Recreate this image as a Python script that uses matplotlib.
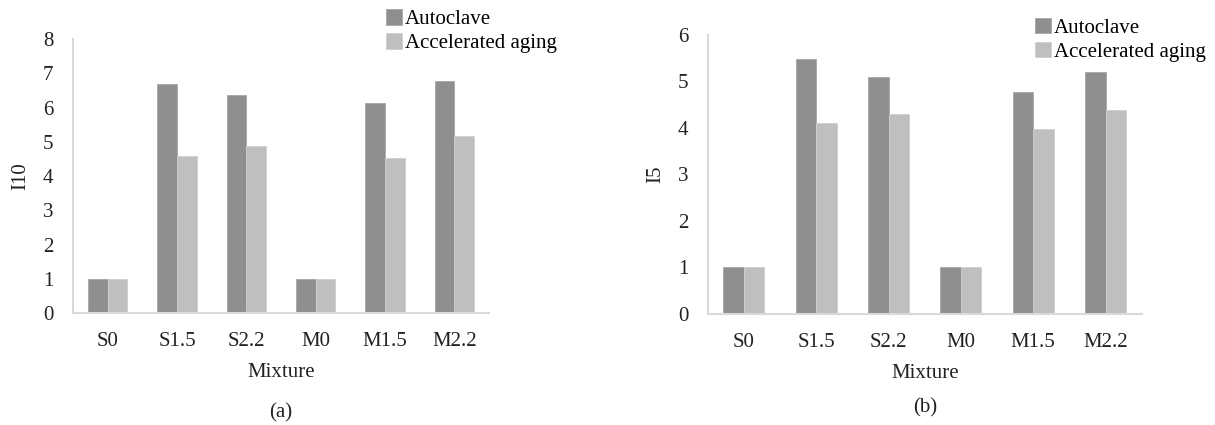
import matplotlib.pyplot as plt
import numpy as np

plt.rcParams['font.family'] = ['Liberation Serif', 'DejaVu Serif']
plt.rcParams['font.size'] = 15

mixtures = ["S0", "S1.5", "S2.2", "M0", "M1.5", "M2.2"]
i10_autoclave = [1, 6.68, 6.37, 1, 6.13, 6.77]
i10_aging = [1, 4.59, 4.87, 1, 4.53, 5.18]
i5_autoclave = [1, 5.48, 5.10, 1, 4.78, 5.20]
i5_aging = [1, 4.10, 4.30, 1, 3.98, 4.38]

dark = "#8f8f8f"
light = "#bfbfbf"
spine = "#d9d9d9"


def bar_panel(ax, auto, aged, ylabel, ymax, tag, tag_y, legend_xy, label_x):
    x = np.arange(len(mixtures)) + 0.5
    w = 0.283
    ax.bar(x - w / 2, auto, w, color=dark, edgecolor="#a6a6a6", linewidth=0.6, label="Autoclave")
    ax.bar(x + w / 2, aged, w, color=light, edgecolor="#d0d0d0", linewidth=0.6, label="Accelerated aging")
    ax.set_xlim(0, len(mixtures))
    ax.set_ylim(0, ymax)
    ax.set_yticks(range(ymax + 1))
    ax.set_xticks(x)
    ax.set_xticklabels(mixtures)
    ax.tick_params(axis="both", length=0, colors="#222222")
    ax.tick_params(axis="y", pad=14)
    ax.tick_params(axis="x", pad=14)
    for s in ["top", "right"]:
        ax.spines[s].set_visible(False)
    for s in ["left", "bottom"]:
        ax.spines[s].set_color(spine)
        ax.spines[s].set_linewidth(1.5)
    ax.set_xlabel("Mixture", labelpad=8, color="#222222")
    ax.set_ylabel(ylabel, color="#222222")
    ax.yaxis.set_label_coords(label_x, 0.5)
    ax.legend(loc="upper left", bbox_to_anchor=legend_xy, bbox_transform=fig.transFigure,
              frameon=False, handlelength=0.75, handleheight=0.75, handletextpad=0.15,
              labelspacing=0.2, borderaxespad=0, borderpad=0)
    ax.text(0.5, tag_y, tag, transform=ax.transAxes, ha="center", va="center", color="#222222")


fig = plt.figure(figsize=(12.15, 4.25), dpi=100)
ax1 = fig.add_axes([0.0601, 0.2635, 0.3424, 0.6447])
ax2 = fig.add_axes([0.5825, 0.2612, 0.3572, 0.6565])

bar_panel(ax1, i10_autoclave, i10_aging, "I10", 8, "(a)", -0.365, (0.318, 0.978), -0.103)
bar_panel(ax2, i5_autoclave, i5_aging, "I5", 6, "(b)", -0.337, (0.852, 0.958), -0.098)

fig.savefig("out.png", dpi=100)
